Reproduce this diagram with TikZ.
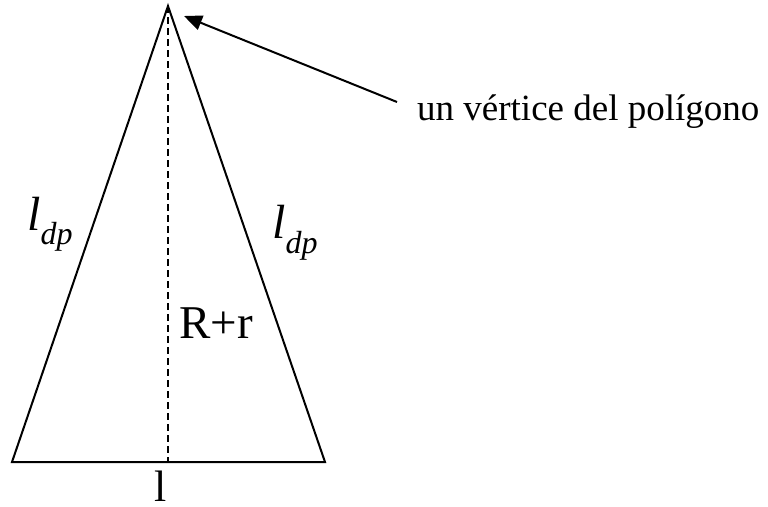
\documentclass[tikz,border=0pt]{standalone}
\usepackage{fontspec}
\setmainfont{Liberation Serif}
\usetikzlibrary{arrows.meta}
\begin{document}
\begin{tikzpicture}[x=1pt,y=-1pt,
  edge/.style={line width=2pt},
  dashline/.style={line width=1.6pt,dash pattern=on 7pt off 4pt},
  pointer/.style={line width=2pt,-{Triangle[length=18pt,width=15pt]}},
  bigtext/.style={inner sep=0pt,anchor=base west,font=\fontsize{46}{50}\selectfont},
  labtext/.style={inner sep=0pt,anchor=base west,font=\fontsize{37}{42}\selectfont}]
\useasboundingbox (0,0) rectangle (768,506);
\coordinate (A) at (168,6);
\coordinate (B) at (12,462);
\coordinate (C) at (325,462);
\coordinate (M) at (168,462);
\draw[edge,line join=miter] (A) -- (B) -- (C) -- cycle;
\draw[dashline] (A) -- (M);
\node[labtext] (lab) at (417,120) {un vértice del polígono};
\coordinate (tail) at (397,102);
\coordinate (tip) at (184,16);
\draw[pointer] (tail) -- (tip);
\node[bigtext,font=\fontsize{48}{52}\selectfont] (ldpL) at (27,230) {\textit{l}\raisebox{-14pt}{\fontsize{32}{34}\selectfont\itshape dp}};
\node[bigtext,font=\fontsize{48}{52}\selectfont] (ldpR) at (272,238) {\textit{l}\raisebox{-15pt}{\fontsize{32}{34}\selectfont\itshape dp}};
\node[bigtext,font=\fontsize{47}{50}\selectfont] (Rr) at (179,338) {R+r};
\node[bigtext,font=\fontsize{44}{50}\selectfont] (base) at (154,501) {\raisebox{0pt}[\height][0pt]{l}};
\end{tikzpicture}
\end{document}
